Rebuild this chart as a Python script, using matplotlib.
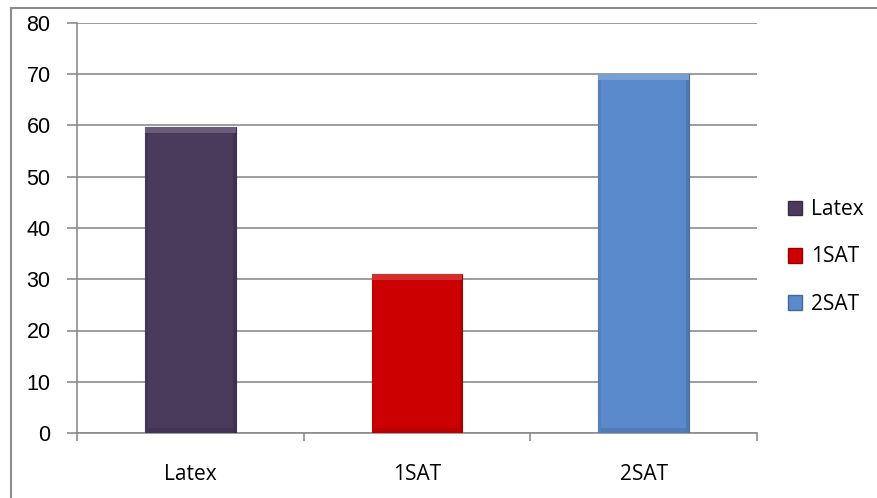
import matplotlib
matplotlib.use("Agg")
import matplotlib.pyplot as plt
from matplotlib.patches import Patch, Rectangle
from matplotlib.lines import Line2D
import matplotlib.colors as mcolors

categories = ["Latex", "1SAT", "2SAT"]
values = [59.7, 31.0, 70.1]
colors = ["#4a3a5c", "#cc0000", "#5a8acb"]
yticks = [0, 10, 20, 30, 40, 50, 60, 70, 80]

W, H = 878, 498
fig = plt.figure(figsize=(W / 100, H / 100), dpi=100)
ax = fig.add_axes([77 / W, (H - 433) / H, (757 - 77) / W, (433 - 23) / H])

def shade(c, f):
    r, g, b = mcolors.to_rgb(c)
    if f > 0:
        return (r + (1 - r) * f, g + (1 - g) * f, b + (1 - b) * f)
    return (r * (1 + f), g * (1 + f), b * (1 + f))

x = list(range(len(categories)))
bars = ax.bar(x, values, width=0.4, color=colors,
              edgecolor=[shade(c, -0.2) for c in colors], linewidth=0.8, zorder=3)

# subtle bevel derived from each bar's geometry
for b, c in zip(bars, colors):
    x0, w, h = b.get_x(), b.get_width(), b.get_height()
    bev_y = 1.2
    bev_x = w * 0.03
    ax.add_patch(Rectangle((x0, h - bev_y), w, bev_y, facecolor=shade(c, 0.18),
                           edgecolor="none", zorder=4))
    ax.add_patch(Rectangle((x0, 0), w, bev_y * 0.8, facecolor=shade(c, -0.1),
                           edgecolor="none", zorder=4))
    ax.add_patch(Rectangle((x0, 0), bev_x, h - bev_y, facecolor=shade(c, -0.07),
                           edgecolor="none", zorder=4))
    ax.add_patch(Rectangle((x0 + w - bev_x, 0), bev_x, h - bev_y, facecolor=shade(c, -0.14),
                           edgecolor="none", zorder=4))

ax.set_xlim(-0.5, len(categories) - 0.5)
ax.set_ylim(0, 80)
ax.set_yticks(yticks)
ax.set_yticklabels([str(v) for v in yticks], family="Liberation Sans", fontsize=15.5)
ax.yaxis.grid(True, color="#8c8c8c", linewidth=1.2, zorder=0)
ax.tick_params(axis="y", length=7, width=1.2, color="#8c8c8c", pad=12)

ax.set_xticks([-0.5, 0.5, 1.5, 2.5])
ax.set_xticklabels([])
ax.tick_params(axis="x", length=6, width=1.2, color="#8c8c8c")
for xi, c in zip(x, categories):
    ax.text(xi, -8.0, c, ha="center", va="center", fontsize=15, family="Open Sans")

for s in ["top", "right"]:
    ax.spines[s].set_visible(False)
for s in ["left", "bottom"]:
    ax.spines[s].set_color("#8c8c8c")
    ax.spines[s].set_linewidth(1.2)

handles = [Patch(facecolor=c, edgecolor=shade(c, -0.25)) for c in colors]
fig.legend(handles, categories, loc="center left", bbox_to_anchor=(769 / W, 1 - 257 / H),
           frameon=False, handlelength=0.7, handleheight=0.7, handletextpad=0.4,
           labelspacing=1.25, prop={"family": "Open Sans", "size": 15})

# outer chart border (cropped at right/bottom)
fig.add_artist(Line2D([11 / W, 11 / W], [0, 1 - 8 / H], transform=fig.transFigure,
                      color="#8c8c8c", linewidth=1.5))
fig.add_artist(Line2D([11 / W, 1], [1 - 8 / H, 1 - 8 / H], transform=fig.transFigure,
                      color="#8c8c8c", linewidth=1.5))

fig.savefig("out.png", dpi=100)
